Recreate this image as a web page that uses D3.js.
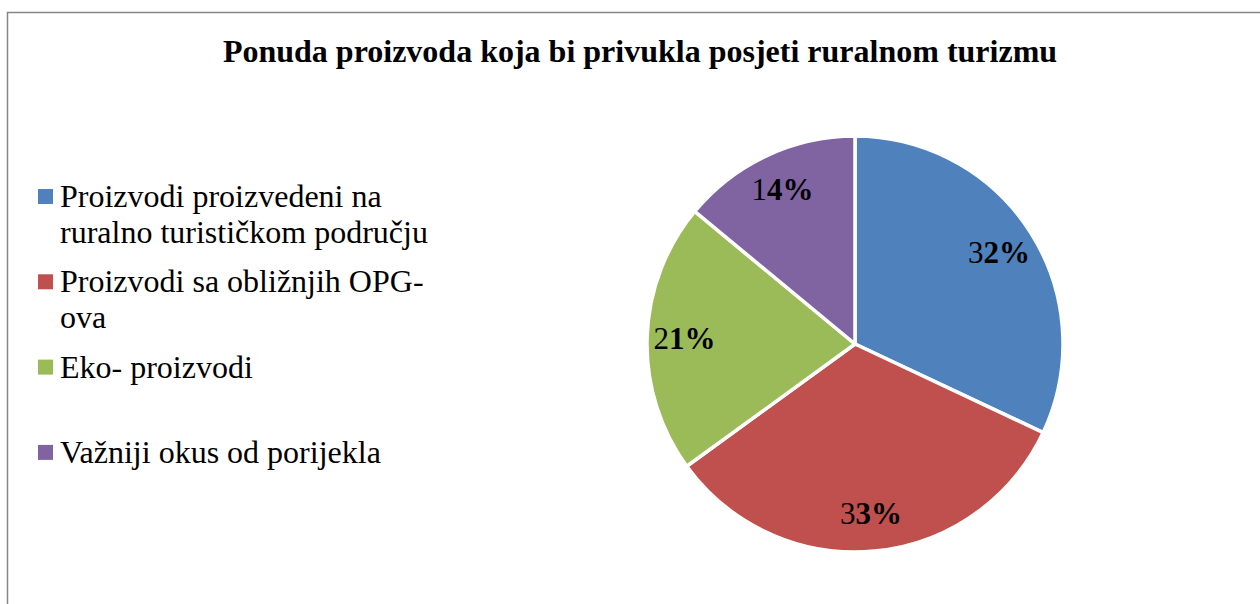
<!DOCTYPE html>
<html>
<head>
<meta charset="utf-8">
<script src="https://cdn.jsdelivr.net/npm/d3@7"></script>
<style>
  html, body { margin: 0; padding: 0; background: #ffffff; }
  svg { display: block; }
</style>
</head>
<body>
<svg id="chart" width="1260" height="604"></svg>
<script>
const title = "Ponuda proizvoda koja bi privukla posjeti ruralnom turizmu";
const categories = [
  ["Proizvodi proizvedeni na", "ruralno turističkom području"],
  ["Proizvodi sa obližnjih OPG-", "ova"],
  ["Eko- proizvodi"],
  ["Važniji okus od porijekla"]
];
const values = [32, 33, 21, 14];
const labels = ["32%", "33%", "21%", "14%"];
const colors = ["#4F81BD", "#C0504D", "#9BBB59", "#8064A2"];

const svg = d3.select("#chart");
const serif = "'Liberation Serif', 'Times New Roman', Times, serif";

// outer frame
svg.append("rect")
  .attr("x", 7.5).attr("y", 12.5)
  .attr("width", 1400).attr("height", 800)
  .attr("fill", "#ffffff")
  .attr("stroke", "#868686")
  .attr("stroke-width", 1.5);

// title
svg.append("text")
  .attr("x", 640).attr("y", 62)
  .attr("text-anchor", "middle")
  .attr("font-family", serif)
  .attr("font-weight", "bold")
  .attr("font-size", 32)
  .attr("fill", "#000")
  .text(title);

// pie
const cx = 855, cy = 344, r = 208;
const pie = d3.pie().sort(null).value(d => d);
const arcs = pie(values);
const arc = d3.arc().innerRadius(0).outerRadius(r);
const labelArc = d3.arc().innerRadius(r * 0.82).outerRadius(r * 0.82);

const g = svg.append("g").attr("transform", `translate(${cx},${cy})`);
g.selectAll("path.slice")
  .data(arcs)
  .join("path")
  .attr("class", "slice")
  .attr("d", arc)
  .attr("fill", (d, i) => colors[i])
  .attr("stroke", "#ffffff")
  .attr("stroke-width", 3.5)
  .attr("stroke-linejoin", "round");

const lab = g.selectAll("text.lbl")
  .data(arcs)
  .join("text")
  .attr("class", "lbl")
  .attr("transform", d => {
    const [x, y] = labelArc.centroid(d);
    return `translate(${x},${y + 10})`;
  })
  .attr("text-anchor", "middle")
  .attr("font-family", serif)
  .attr("font-size", 31)
  .attr("fill", "#000");
lab.append("tspan").text((d, i) => labels[i].slice(0, 1));
lab.append("tspan").attr("font-weight", "bold").text((d, i) => labels[i].slice(1));

// legend
const legend = svg.append("g");
const itemStep = 85.3, base0 = 207, lineH = 36;
categories.forEach((lines, i) => {
  const by = base0 + i * itemStep;
  legend.append("rect")
    .attr("x", 38).attr("y", by - 18)
    .attr("width", 15).attr("height", 15)
    .attr("fill", colors[i]);
  const t = legend.append("text")
    .attr("x", 60).attr("y", by)
    .attr("font-family", serif)
    .attr("font-size", 32)
    .attr("fill", "#000");
  lines.forEach((ln, j) => {
    t.append("tspan").attr("x", 60).attr("y", by + j * lineH).text(ln);
  });
});
</script>
</body>
</html>
